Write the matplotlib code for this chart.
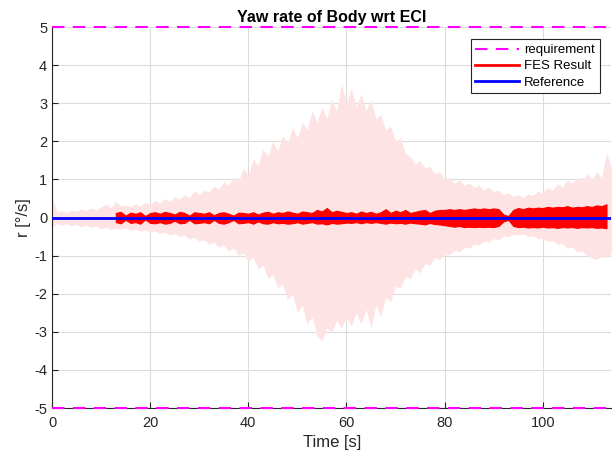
import numpy as np
import matplotlib.pyplot as plt
from matplotlib.lines import Line2D

plt.rcParams['font.family'] = ['Liberation Sans', 'DejaVu Sans']
plt.rcParams['axes.unicode_minus'] = False

# envelope of the Monte-Carlo runs (light pink band), sampled every 1 s
env_time = np.arange(0, 115)
env_upper = [0.55, 0.15, 0.18, 0.14, 0.2, 0.17, 0.22, 0.18, 0.25, 0.2,
             0.28, 0.35, 0.25, 0.42, 0.3, 0.33, 0.28, 0.36, 0.3, 0.4,
             0.35, 0.45, 0.38, 0.5, 0.42, 0.55, 0.48, 0.6, 0.52, 0.7,
             0.6, 0.72, 0.66, 0.82, 0.74, 0.95, 0.85, 1.05, 0.95, 1.3,
             1.1, 1.55, 1.35, 1.8, 1.6, 2.0, 1.75, 2.15, 1.95, 2.35,
             2.1, 2.5, 2.3, 2.8, 2.5, 2.9, 2.6, 3.1, 2.8, 3.5,
             3.0, 3.4, 2.9, 3.25, 2.8, 3.1, 2.6, 2.7, 2.3, 2.4,
             2.0, 2.1, 1.7, 1.6, 1.4, 1.5, 1.3, 1.35, 1.15, 1.2,
             1.0, 1.05, 0.9, 1.0, 0.85, 0.9, 0.8, 0.85, 0.72, 0.8,
             0.68, 0.72, 0.6, 0.65, 0.55, 0.6, 0.52, 0.62, 0.58, 0.7,
             0.65, 0.78, 0.72, 0.88, 0.8, 0.98, 0.9, 1.05, 0.95, 1.15,
             1.0, 1.2, 1.05, 1.7, 1.3]
env_lower = [-0.25, -0.15, -0.2, -0.16, -0.22, -0.18, -0.24, -0.2, -0.26, -0.22,
             -0.3, -0.25, -0.32, -0.28, -0.3, -0.27, -0.33, -0.3, -0.36, -0.32,
             -0.38, -0.35, -0.42, -0.38, -0.46, -0.42, -0.5, -0.46, -0.56, -0.52,
             -0.62, -0.58, -0.7, -0.64, -0.78, -0.72, -0.88, -0.8, -1.0, -0.92,
             -1.15, -1.05, -1.35, -1.25, -1.6, -1.5, -1.85, -1.75, -2.15, -2.0,
             -2.5, -2.3, -2.8, -2.6, -3.1, -3.25, -2.9, -3.0, -2.7, -2.9,
             -2.6, -2.85, -2.5, -2.8, -2.4, -2.9, -2.3, -2.6, -2.1, -2.2,
             -1.8, -1.85, -1.55, -1.6, -1.35, -1.45, -1.2, -1.25, -1.05, -1.1,
             -0.95, -0.98, -0.85, -0.9, -0.78, -0.8, -0.7, -0.72, -0.62, -0.65,
             -0.55, -0.58, -0.48, -0.5, -0.44, -0.46, -0.42, -0.5, -0.48, -0.55,
             -0.55, -0.62, -0.6, -0.7, -0.68, -0.8, -0.78, -0.9, -0.88, -1.0,
             -1.05, -1.1, -1.0, -1.05, -0.95]

# FES result (red), upper / lower extent per 1 s
fes_time = np.arange(13, 114)
fes_upper = [0.12, 0.15, 0.05, 0.13, 0.1, 0.14, 0.04, 0.12, 0.14, 0.1,
             0.15, 0.12, 0.08, 0.15, 0.12, 0.05, 0.14, 0.12, 0.1, 0.14,
             0.06, 0.12, 0.14, 0.1, 0.05, 0.13, 0.12, 0.1, 0.14, 0.08,
             0.13, 0.15, 0.1, 0.14, 0.12, 0.16, 0.13, 0.1, 0.16, 0.14,
             0.12, 0.2, 0.16, 0.25, 0.14, 0.18, 0.15, 0.12, 0.14, 0.1,
             0.16, 0.12, 0.15, 0.1, 0.14, 0.22, 0.12, 0.18, 0.14, 0.2,
             0.12, 0.15, 0.18, 0.2, 0.12, 0.18, 0.2, 0.2, 0.22, 0.2,
             0.22, 0.2, 0.22, 0.24, 0.22, 0.24, 0.22, 0.24, 0.22, 0.08,
             0.04, 0.2, 0.25, 0.22, 0.26, 0.24, 0.26, 0.25, 0.28, 0.26,
             0.28, 0.27, 0.3, 0.26, 0.28, 0.27, 0.3, 0.28, 0.32, 0.3,
             0.35]
fes_lower = [-0.12, -0.15, -0.06, -0.14, -0.12, -0.16, -0.05, -0.14, -0.15, -0.12,
             -0.16, -0.14, -0.08, -0.15, -0.14, -0.06, -0.15, -0.14, -0.12, -0.15,
             -0.06, -0.14, -0.16, -0.12, -0.06, -0.15, -0.14, -0.12, -0.16, -0.1,
             -0.15, -0.16, -0.12, -0.15, -0.14, -0.16, -0.15, -0.12, -0.16, -0.14,
             -0.12, -0.16, -0.15, -0.18, -0.14, -0.16, -0.15, -0.13, -0.14, -0.12,
             -0.15, -0.12, -0.14, -0.12, -0.14, -0.16, -0.13, -0.15, -0.14, -0.16,
             -0.13, -0.15, -0.16, -0.18, -0.14, -0.17, -0.18, -0.2, -0.22, -0.24,
             -0.22, -0.25, -0.24, -0.25, -0.24, -0.25, -0.24, -0.25, -0.22, -0.1,
             -0.06, -0.22, -0.25, -0.24, -0.26, -0.25, -0.26, -0.24, -0.26, -0.25,
             -0.27, -0.25, -0.26, -0.25, -0.27, -0.25, -0.26, -0.25, -0.27, -0.26,
             -0.28]

ref_time = [0, 114]
ref_value = [0, 0]
req_limit = 5

fig, ax = plt.subplots(figsize=(6.12, 4.59), dpi=100)
fig.subplots_adjust(left=0.085, right=0.999, bottom=0.111, top=0.941)

ax.fill_between(env_time, env_lower, env_upper, color='#fde3e3', lw=0, zorder=1)
for y in (req_limit, -req_limit):
    ax.axhline(y, color='magenta', ls=(0, (6, 4)), lw=1.5, zorder=4, clip_on=False)
ax.fill_between(fes_time, fes_lower, fes_upper, color='red', lw=0.8,
                edgecolor='red', zorder=2)
ax.plot(ref_time, ref_value, color='blue', lw=2, zorder=3)

ax.set_xlim(0, 114)
ax.set_ylim(-5, 5)
ax.set_xticks([0, 20, 40, 60, 80, 100])
ax.set_yticks(range(-5, 6))
ax.grid(True, color='#dcdcdc', lw=0.8)
ax.set_axisbelow(True)
ax.tick_params(direction='in', labelsize=10.5, colors='#262626', length=4)
ax.tick_params(axis='x', pad=6)
for s in ['top', 'right']:
    ax.spines[s].set_visible(False)
for s in ['left', 'bottom']:
    ax.spines[s].set_color('#262626')

ax.set_title('Yaw rate of Body wrt ECI', fontsize=11.5, fontweight='bold', pad=4)
ax.set_xlabel('Time [s]', fontsize=12, color='#262626', labelpad=3)
ax.set_ylabel('r [°/s]', fontsize=12, color='#262626', labelpad=2)

handles = [Line2D([], [], color='magenta', ls=(0, (6, 4)), lw=1.5),
           Line2D([], [], color='red', lw=2),
           Line2D([], [], color='blue', lw=2)]
leg = ax.legend(handles, ['requirement', 'FES Result', 'Reference'],
                loc='upper right', bbox_to_anchor=(0.979, 0.968), fontsize=9.5,
                fancybox=False, framealpha=1, edgecolor='#262626',
                borderpad=0.35, labelspacing=0.3, handlelength=3.3, handletextpad=0.4,
                borderaxespad=0)
leg.get_frame().set_linewidth(0.8)

fig.savefig('out.png', dpi=100)
